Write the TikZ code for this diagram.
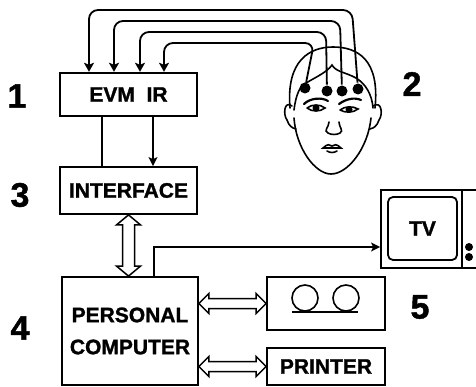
\documentclass[tikz,border=0pt]{standalone}
\usepackage{fontspec}
\setsansfont{Liberation Sans}[BoldFeatures={FakeBold=1.3}]
\usetikzlibrary{arrows.meta, calc}
\newcommand{\lab}{\fontsize{21}{24}\selectfont}
\newcommand{\numfont}{\fontsize{34}{36}\selectfont}
\tikzset{
  every picture/.style={font=\sffamily\bfseries, line width=1.6pt},
  box/.style={draw, line width=1.8pt, inner sep=0pt, align=center, font=\sffamily\bfseries\lab},
  wire/.style={line width=1.8pt, rounded corners=9pt, -{Stealth[length=9pt, width=10pt, inset=2pt]}},
  link/.style={line width=1.5pt},
  tip/.style={-{Stealth[length=9pt, width=9pt, inset=2pt]}},
  num/.style={font=\sffamily\bfseries\numfont},
  dot/.style={circle, fill, inner sep=0pt, minimum size=11pt},
  face/.style={line width=1.6pt, line cap=round},
  % wide open arrows, heads at both ends
  hollowh/.style={draw, fill=white, line width=1.5pt, to path={
    let \p1=(\tikztostart), \p2=(\tikztotarget) in
    (\p1) -- (\x1+10pt,\y1+10pt) -- (\x1+10pt,\y1+5pt) -- (\x2-10pt,\y1+5pt)
    -- (\x2-10pt,\y1+10pt) -- (\x2,\y1) -- (\x2-10pt,\y1-10pt) -- (\x2-10pt,\y1-5pt)
    -- (\x1+10pt,\y1-5pt) -- (\x1+10pt,\y1-10pt) -- cycle}},
  hollowv/.style={draw, fill=white, line width=1.5pt, to path={
    let \p1=(\tikztostart), \p2=(\tikztotarget) in
    (\p1) -- (\x1+12pt,\y1-10pt) -- (\x1+6pt,\y1-10pt) -- (\x1+6pt,\y2+10pt)
    -- (\x1+12pt,\y2+10pt) -- (\x1,\y2) -- (\x1-12pt,\y2+10pt) -- (\x1-6pt,\y2+10pt)
    -- (\x1-6pt,\y1-10pt) -- (\x1-12pt,\y1-10pt) -- cycle}},
}

\begin{document}
\begin{tikzpicture}[x=1pt, y=-1pt]
  \clip (0,0) rectangle (476,387);

  % blocks
  \node[box, line width=2.4pt, minimum width=137pt, minimum height=43pt] (evm) at (128.5,94.5) {EVM\ \ IR};
  \node[box, minimum width=137pt, minimum height=47pt] (iface) at (128.5,190.5) {INTERFACE};
  \node[box, minimum width=136pt, minimum height=108pt] (pc) at (130,331) {PERSONAL\\[8pt]COMPUTER};
  \node[box, minimum width=118pt, minimum height=53pt] (tape) at (326,303.5) {};
  \node[box, minimum width=118pt, minimum height=37pt] (printer) at (326,366.5) {PRINTER};
  \node[box, minimum width=109pt, minimum height=78pt] (tv) at (435.5,229) {};
  \node[box, rounded corners=5pt, minimum width=69pt, minimum height=63pt] (screen) at (422.5,228.5) {TV};

  % tv side panel
  \draw[line width=1.8pt] (462,190) -- (462,268);
  \fill (469,247) circle (4pt) (469,257) circle (4pt);

  % tape reels
  \draw[line width=1.6pt] (305,298) circle (13pt) (346,298) circle (13pt);
  \draw[line width=1.8pt] (292,312) -- (358,312);

  % block numbers
  \node[num] (n1) at (17,96) {1};
  \node[num] (n2) at (412,84) {2};
  \node[num] (n3) at (20,195) {3};
  \node[num] (n4) at (20,328) {4};
  \node[num] (n5) at (420,307) {5};

  % head
  \begin{scope}[face]
    \draw (290,108) .. controls (286,60) and (310,47) .. (333,47)
      .. controls (358,47) and (380,60) .. (375,108);
    \draw (294,110) .. controls (296,94) and (300,86) .. (306,83)
      .. controls (318,76) and (327,72) .. (332,65)
      .. controls (336,72) and (345,72) .. (356,78)
      .. controls (366,84) and (372,95) .. (373,108);
    \draw (292,106) .. controls (284,100) and (283,115) .. (287,120)
      .. controls (289,126) and (292,128) .. (296,129);
    \draw (373,106) .. controls (382,100) and (383,115) .. (379,120)
      .. controls (377,126) and (374,128) .. (370,129);
    \draw (294,118) .. controls (296,148) and (315,174) .. (331,174)
      .. controls (348,174) and (368,148) .. (371,118);
    % brows and eyes
    \draw[line width=2.2pt] (304,104) .. controls (310,98) and (322,97) .. (328,101);
    \draw[line width=2.2pt] (339,104) .. controls (346,99) and (354,97) .. (361,100);
    \draw (307,108) .. controls (312,104) and (320,104) .. (325,108)
      .. controls (320,112) and (312,112) .. (307,108);
    \fill (316,108) circle (3.5pt);
    \draw (340,110) .. controls (345,106) and (353,106) .. (358,109)
      .. controls (353,113) and (345,113) .. (340,110);
    \fill (349,109.5) circle (3.5pt);
    % nose and mouth
    \draw (329,122) .. controls (329,127) and (323,131) .. (328,133)
      .. controls (331,135) and (337,135) .. (340,133)
      .. controls (344,131) and (339,127) .. (339,122);
    \draw (323,148) .. controls (327,144) and (330,144) .. (332,146)
      .. controls (334,144) and (337,144) .. (341,148) -- cycle;
    \draw (327,151) .. controls (330,153) and (334,153) .. (337,151);
  \end{scope}

  % electrodes
  \node[dot] (e1) at (358,89) {};
  \node[dot] (e2) at (342,91) {};
  \node[dot] (e3) at (327,91) {};
  \node[dot] (e4) at (305,88) {};

  % electrode leads into the amplifier
  \foreach \e/\tx/\ty/\dx in {e1/352/10/-39.5, e2/340/21/-14.5, e3/326/32/11.5, e4/314/43/35.5}
    \draw[wire] (\e) -- (\tx,\ty) -| ($(evm.north)+(\dx,0)$);

  % signal lines
  \draw[link] ($(evm.south)+(-26.5,0)$) -- ($(iface.north)+(-26.5,0)$);
  \draw[link, tip] ($(evm.south)+(24.5,0)$) -- ($(iface.north)+(24.5,0)$);
  \draw[link, tip] ($(pc.north)+(24,0)$) |- ($(tv.west)+(0,18)$);

  % data buses
  \draw[hollowv] (iface.south) to (iface.south |- pc.north);
  \draw[hollowh] (pc.east |- tape.west) to (tape.west);
  \draw[hollowh] (pc.east |- printer.west) to (printer.west);
\end{tikzpicture}
\end{document}
